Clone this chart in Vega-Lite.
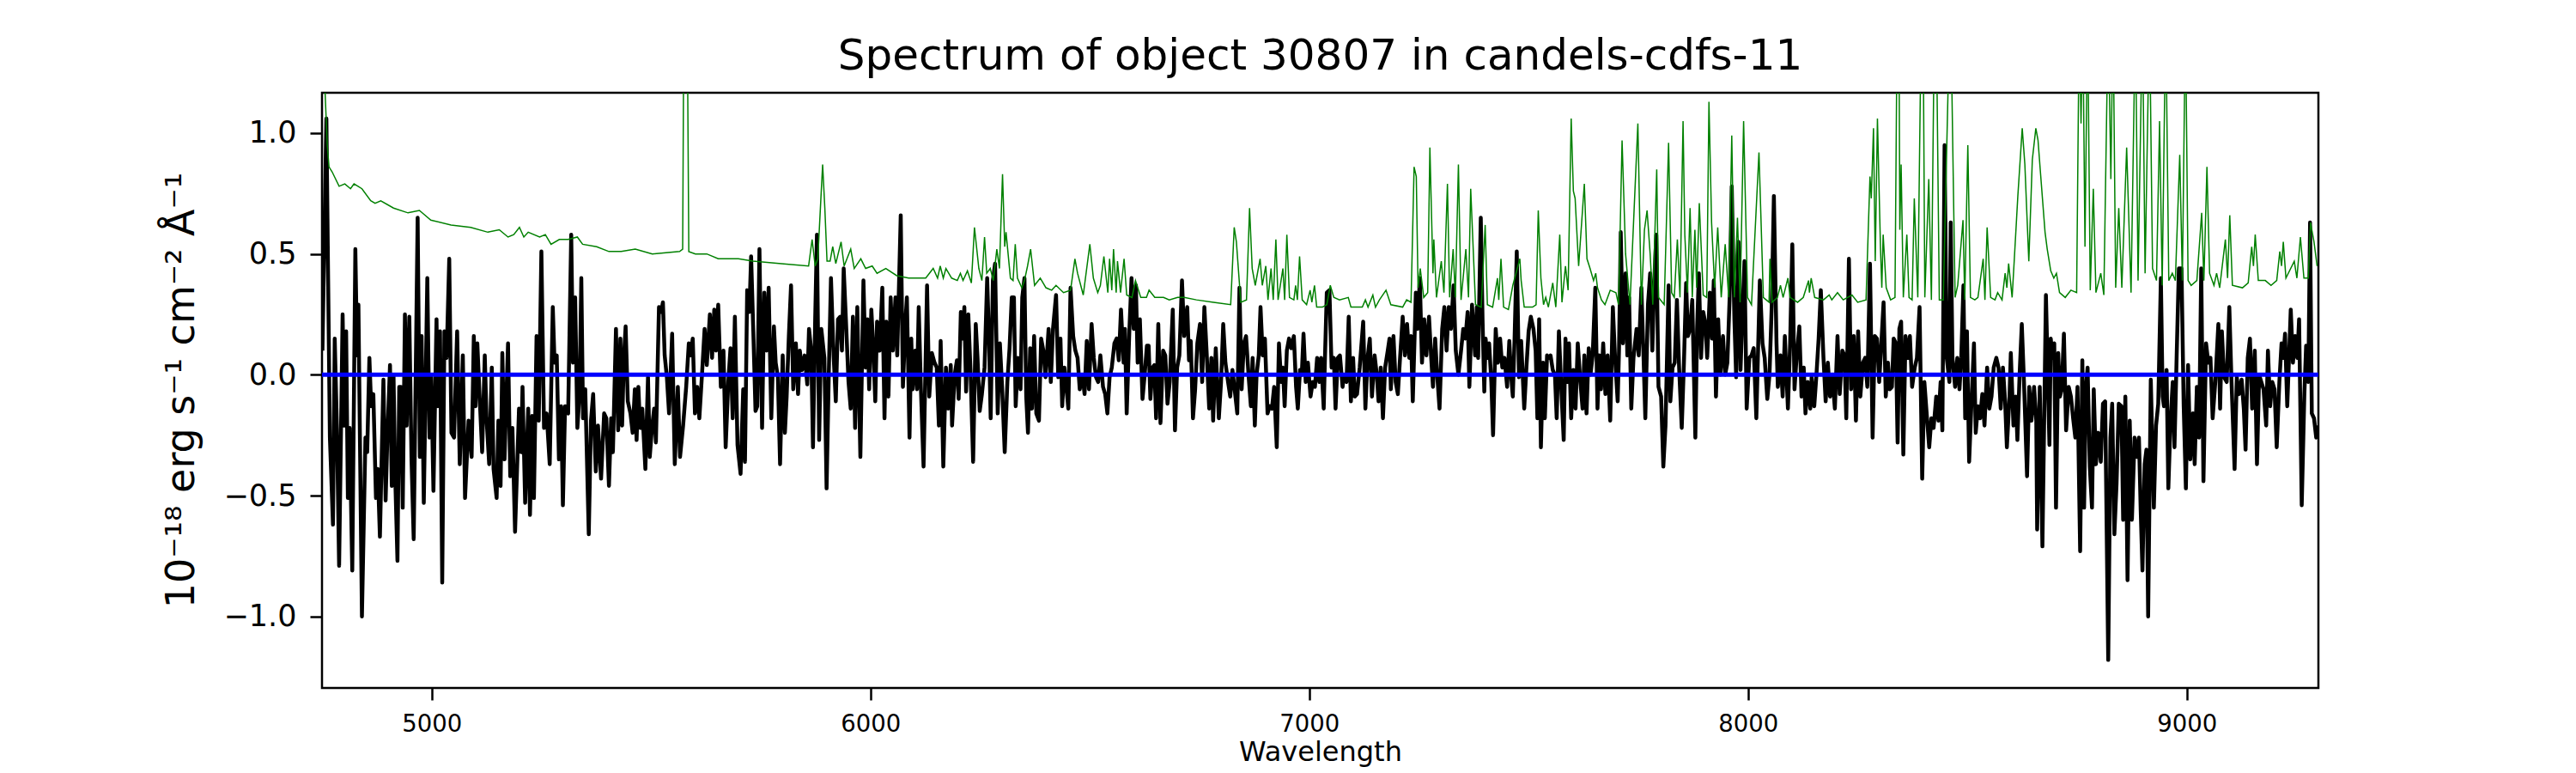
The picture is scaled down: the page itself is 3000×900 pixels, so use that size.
{
"$schema": "https://vega.github.io/schema/vega-lite/v6.json",
"width": 2325,
"height": 693,
"autosize": {"type": "none"},
"padding": {"left": 375, "top": 108, "right": 300, "bottom": 99},
"background": "white",
"config": {
  "font": "DejaVu Sans",
  "view": {"stroke": "black", "strokeWidth": 2.5},
  "axis": {"grid": false, "domain": false, "tickColor": "black", "tickWidth": 2.5, "labelColor": "black", "titleColor": "black", "labelFont": "DejaVu Sans", "titleFont": "DejaVu Sans", "titleFontWeight": "normal"}
},
"title": {"text": "Spectrum of object 30807 in candels-cdfs-11", "fontSize": 50, "fontWeight": "normal", "font": "DejaVu Sans", "color": "black", "anchor": "middle", "frame": "group", "offset": 17},
"datasets": {
"flux": [
{"w":4751,"f":0.10},{"w":4760,"f":1.06},{"w":4764,"f":0.39},{"w":4768,"f":-0.26},{"w":4775,"f":-0.62},{"w":4779,"f":0.15},{"w":4784,"f":-0.22},{"w":4789,"f":-0.79},{"w":4797,"f":0.25},{"w":4801,"f":-0.21},{"w":4805,"f":0.18},{"w":4809,"f":-0.51},{"w":4813,"f":-0.22},{"w":4819,"f":-0.81},{"w":4826,"f":0.52},{"w":4830,"f":0.08},{"w":4833,"f":0.29},{"w":4841,"f":-1.00},{"w":4849,"f":-0.26},{"w":4853,"f":-0.32},{"w":4858,"f":0.07},{"w":4862,"f":-0.13},{"w":4867,"f":-0.08},{"w":4873,"f":-0.51},{"w":4877,"f":-0.39},{"w":4882,"f":-0.67},{"w":4887,"f":-0.26},{"w":4890,"f":-0.02},{"w":4895,"f":-0.52},{"w":4899,"f":-0.26},{"w":4905,"f":0.04},{"w":4909,"f":-0.46},{"w":4913,"f":0.00},{"w":4917,"f":-0.43},{"w":4922,"f":-0.77},{"w":4926,"f":-0.05},{"w":4930,"f":-0.05},{"w":4934,"f":-0.55},{"w":4939,"f":0.25},{"w":4943,"f":-0.21},{"w":4949,"f":0.24},{"w":4954,"f":-0.35},{"w":4959,"f":-0.68},{"w":4968,"f":0.65},{"w":4973,"f":-0.34},{"w":4977,"f":0.16},{"w":4982,"f":-0.53},{"w":4990,"f":0.40},{"w":4995,"f":-0.26},{"w":4999,"f":-0.01},{"w":5004,"f":-0.48},{"w":5011,"f":0.23},{"w":5014,"f":-0.13},{"w":5019,"f":0.18},{"w":5024,"f":-0.86},{"w":5029,"f":0.18},{"w":5034,"f":0.07},{"w":5040,"f":0.48},{"w":5045,"f":-0.24},{"w":5051,"f":-0.26},{"w":5058,"f":0.18},{"w":5064,"f":-0.37},{"w":5071,"f":0.08},{"w":5076,"f":-0.51},{"w":5084,"f":-0.19},{"w":5091,"f":-0.34},{"w":5096,"f":0.16},{"w":5100,"f":-0.13},{"w":5104,"f":0.13},{"w":5109,"f":-0.08},{"w":5115,"f":-0.32},{"w":5121,"f":0.08},{"w":5125,"f":-0.18},{"w":5131,"f":-0.37},{"w":5137,"f":0.03},{"w":5141,"f":-0.39},{"w":5148,"f":-0.51},{"w":5152,"f":-0.19},{"w":5157,"f":-0.46},{"w":5161,"f":0.09},{"w":5166,"f":-0.35},{"w":5174,"f":0.13},{"w":5179,"f":-0.42},{"w":5184,"f":-0.22},{"w":5190,"f":-0.65},{"w":5199,"f":-0.14},{"w":5204,"f":-0.32},{"w":5207,"f":-0.05},{"w":5213,"f":-0.53},{"w":5220,"f":-0.14},{"w":5224,"f":-0.58},{"w":5229,"f":-0.17},{"w":5233,"f":-0.51},{"w":5239,"f":0.16},{"w":5244,"f":-0.19},{"w":5250,"f":0.51},{"w":5256,"f":-0.22},{"w":5262,"f":-0.16},{"w":5269,"f":-0.37},{"w":5276,"f":0.28},{"w":5280,"f":0.05},{"w":5285,"f":0.08},{"w":5290,"f":-0.35},{"w":5295,"f":-0.13},{"w":5299,"f":-0.54},{"w":5304,"f":-0.13},{"w":5311,"f":-0.16},{"w":5318,"f":0.58},{"w":5322,"f":0.05},{"w":5327,"f":0.32},{"w":5332,"f":-0.22},{"w":5337,"f":-0.08},{"w":5341,"f":0.40},{"w":5345,"f":-0.18},{"w":5350,"f":-0.06},{"w":5358,"f":-0.66},{"w":5363,"f":-0.19},{"w":5368,"f":-0.08},{"w":5374,"f":-0.40},{"w":5379,"f":-0.21},{"w":5386,"f":-0.43},{"w":5393,"f":-0.16},{"w":5398,"f":-0.18},{"w":5404,"f":-0.46},
{"w":5409,"f":-0.18},{"w":5413,"f":-0.32},{"w":5420,"f":0.19},{"w":5425,"f":-0.23},{"w":5430,"f":0.15},{"w":5434,"f":-0.21},{"w":5438,"f":0.07},{"w":5442,"f":0.20},{"w":5447,"f":-0.11},{"w":5453,"f":-0.16},{"w":5458,"f":-0.24},{"w":5463,"f":-0.06},{"w":5467,"f":-0.27},{"w":5471,"f":-0.05},{"w":5475,"f":-0.22},{"w":5480,"f":-0.14},{"w":5487,"f":-0.39},{"w":5493,"f":-0.01},{"w":5497,"f":-0.34},{"w":5502,"f":-0.22},{"w":5507,"f":-0.14},{"w":5511,"f":-0.28},{"w":5518,"f":0.28},{"w":5523,"f":0.26},{"w":5527,"f":0.30},{"w":5531,"f":0.08},{"w":5536,"f":-0.01},{"w":5541,"f":-0.16},{"w":5548,"f":0.17},{"w":5554,"f":-0.37},{"w":5561,"f":-0.05},{"w":5566,"f":-0.34},{"w":5573,"f":-0.21},{"w":5580,"f":-0.05},{"w":5586,"f":0.13},{"w":5590,"f":0.08},{"w":5595,"f":0.15},{"w":5600,"f":-0.16},{"w":5605,"f":-0.05},{"w":5610,"f":-0.18},{"w":5616,"f":0.00},{"w":5622,"f":0.19},{"w":5627,"f":0.04},{"w":5634,"f":0.25},{"w":5639,"f":0.07},{"w":5644,"f":0.27},{"w":5648,"f":0.10},{"w":5653,"f":0.29},{"w":5659,"f":-0.05},{"w":5665,"f":0.10},{"w":5670,"f":-0.30},{"w":5676,"f":-0.03},{"w":5681,"f":0.11},{"w":5686,"f":-0.18},{"w":5691,"f":0.24},{"w":5697,"f":-0.29},{"w":5704,"f":-0.41},{"w":5710,"f":-0.06},{"w":5714,"f":-0.36},{"w":5719,"f":0.35},{"w":5724,"f":0.26},{"w":5728,"f":0.49},{"w":5733,"f":0.18},{"w":5738,"f":-0.15},{"w":5742,"f":-0.13},{"w":5747,"f":0.52},{"w":5753,"f":-0.22},{"w":5758,"f":0.34},{"w":5763,"f":0.10},{"w":5768,"f":0.36},{"w":5774,"f":-0.18},{"w":5780,"f":0.20},{"w":5784,"f":0.05},{"w":5789,"f":-0.01},{"w":5794,"f":-0.37},{"w":5800,"f":0.08},{"w":5805,"f":-0.24},{"w":5809,"f":-0.09},{"w":5814,"f":0.16},{"w":5819,"f":0.37},{"w":5824,"f":-0.06},{"w":5830,"f":0.13},{"w":5835,"f":-0.08},{"w":5839,"f":0.10},{"w":5844,"f":0.02},{"w":5850,"f":0.08},{"w":5856,"f":-0.04},{"w":5860,"f":0.19},{"w":5865,"f":0.10},{"w":5869,"f":-0.30},{"w":5874,"f":0.23},{"w":5878,"f":0.58},{"w":5883,"f":-0.27},{"w":5888,"f":0.19},{"w":5895,"f":0.07},{"w":5900,"f":-0.47},{"w":5905,"f":0.00},{"w":5910,"f":0.40},{"w":5916,"f":0.08},{"w":5921,"f":-0.11},{"w":5926,"f":0.23},{"w":5931,"f":0.24},{"w":5935,"f":0.10},{"w":5939,"f":0.44},{"w":5944,"f":0.23},{"w":5950,"f":-0.03},{"w":5955,"f":-0.14},{"w":5960,"f":0.24},{"w":5965,"f":-0.22},{"w":5970,"f":0.28},{"w":5977,"f":-0.34},{"w":5984,"f":0.39},{"w":5989,"f":0.03},{"w":5993,"f":0.23},{"w":5997,"f":-0.06},{"w":6002,"f":0.27},{"w":6006,"f":0.13},{"w":6011,"f":-0.11},{"w":6015,"f":0.22},{"w":6021,"f":0.10},{"w":6027,"f":0.36},{"w":6032,"f":-0.18},{"w":6036,"f":0.22},{"w":6041,"f":-0.09},{"w":6046,"f":0.32},{"w":6051,"f":0.10},{"w":6057,"f":0.32},
{"w":6061,"f":0.08},{"w":6069,"f":0.66},{"w":6074,"f":-0.05},{"w":6080,"f":0.23},{"w":6083,"f":0.32},{"w":6089,"f":-0.26},{"w":6093,"f":0.15},{"w":6096,"f":-0.06},{"w":6102,"f":0.10},{"w":6106,"f":-0.06},{"w":6110,"f":0.28},{"w":6115,"f":-0.06},{"w":6121,"f":-0.38},{"w":6129,"f":0.37},{"w":6134,"f":-0.09},{"w":6140,"f":0.09},{"w":6146,"f":0.05},{"w":6151,"f":0.03},{"w":6156,"f":-0.21},{"w":6160,"f":0.14},{"w":6166,"f":-0.38},{"w":6172,"f":0.03},{"w":6177,"f":-0.14},{"w":6183,"f":0.04},{"w":6186,"f":-0.21},{"w":6192,"f":0.00},{"w":6197,"f":0.06},{"w":6201,"f":-0.10},{"w":6206,"f":0.26},{"w":6210,"f":0.15},{"w":6214,"f":0.28},{"w":6218,"f":-0.07},{"w":6223,"f":0.25},{"w":6228,"f":0.02},{"w":6234,"f":-0.36},{"w":6240,"f":0.21},{"w":6244,"f":0.07},{"w":6249,"f":-0.15},{"w":6254,"f":-0.08},{"w":6260,"f":0.03},{"w":6266,"f":0.40},{"w":6270,"f":0.16},{"w":6274,"f":-0.18},{"w":6279,"f":0.39},{"w":6284,"f":0.46},{"w":6290,"f":-0.16},{"w":6295,"f":0.13},{"w":6300,"f":-0.05},{"w":6306,"f":-0.32},{"w":6312,"f":-0.03},{"w":6317,"f":0.11},{"w":6322,"f":0.32},{"w":6327,"f":0.32},{"w":6331,"f":-0.13},{"w":6336,"f":0.07},{"w":6342,"f":-0.06},{"w":6346,"f":0.32},{"w":6351,"f":0.40},{"w":6355,"f":-0.09},{"w":6359,"f":-0.24},{"w":6364,"f":0.11},{"w":6368,"f":-0.14},{"w":6373,"f":0.16},{"w":6378,"f":-0.16},{"w":6384,"f":-0.19},{"w":6389,"f":0.15},{"w":6394,"f":0.10},{"w":6399,"f":-0.01},{"w":6406,"f":0.19},{"w":6411,"f":-0.03},{"w":6416,"f":0.19},{"w":6423,"f":0.33},{"w":6428,"f":-0.01},{"w":6433,"f":0.15},{"w":6437,"f":-0.13},{"w":6442,"f":0.03},{"w":6447,"f":-0.06},{"w":6451,"f":-0.14},{"w":6456,"f":0.36},{"w":6462,"f":0.16},{"w":6467,"f":0.10},{"w":6472,"f":0.07},{"w":6477,"f":-0.06},{"w":6483,"f":0.00},{"w":6488,"f":-0.08},{"w":6493,"f":0.14},{"w":6498,"f":-0.06},{"w":6504,"f":0.21},{"w":6509,"f":0.07},{"w":6514,"f":-0.01},{"w":6519,"f":-0.03},{"w":6524,"f":0.08},{"w":6530,"f":-0.05},{"w":6535,"f":-0.08},{"w":6540,"f":-0.16},{"w":6545,"f":-0.01},{"w":6550,"f":0.03},{"w":6556,"f":0.13},{"w":6561,"f":0.15},{"w":6566,"f":0.06},{"w":6571,"f":0.27},{"w":6577,"f":0.05},{"w":6580,"f":0.19},{"w":6584,"f":-0.16},{"w":6590,"f":0.18},{"w":6595,"f":0.40},{"w":6600,"f":0.19},{"w":6605,"f":0.37},{"w":6609,"f":0.05},{"w":6614,"f":0.23},{"w":6620,"f":-0.10},{"w":6625,"f":0.00},{"w":6630,"f":0.12},{"w":6634,"f":0.12},{"w":6638,"f":-0.10},{"w":6643,"f":0.03},{"w":6647,"f":0.04},{"w":6651,"f":-0.18},{"w":6656,"f":0.21},{"w":6661,"f":-0.20},{"w":6667,"f":0.10},{"w":6672,"f":0.08},{"w":6677,"f":-0.12},{"w":6682,"f":-0.03},{"w":6689,"f":0.27},{"w":6694,"f":-0.23},{"w":6699,"f":0.03},{"w":6704,"f":0.08},{"w":6710,"f":0.39},{"w":6715,"f":0.16},
{"w":6722,"f":0.28},{"w":6726,"f":0.06},{"w":6730,"f":0.14},{"w":6735,"f":-0.18},{"w":6740,"f":-0.06},{"w":6745,"f":0.13},{"w":6751,"f":0.21},{"w":6756,"f":-0.03},{"w":6761,"f":0.28},{"w":6766,"f":0.10},{"w":6772,"f":-0.14},{"w":6777,"f":0.07},{"w":6781,"f":-0.19},{"w":6787,"f":0.11},{"w":6794,"f":-0.18},{"w":6799,"f":-0.03},{"w":6804,"f":0.21},{"w":6809,"f":0.05},{"w":6815,"f":-0.03},{"w":6820,"f":-0.09},{"w":6825,"f":0.02},{"w":6830,"f":-0.06},{"w":6836,"f":-0.16},{"w":6841,"f":0.36},{"w":6846,"f":-0.06},{"w":6851,"f":0.13},{"w":6856,"f":0.16},{"w":6862,"f":-0.01},{"w":6867,"f":-0.13},{"w":6871,"f":0.07},{"w":6876,"f":-0.21},{"w":6880,"f":0.00},{"w":6885,"f":0.08},{"w":6889,"f":0.28},{"w":6894,"f":0.08},{"w":6899,"f":0.15},{"w":6905,"f":-0.16},{"w":6910,"f":-0.13},{"w":6915,"f":-0.14},{"w":6920,"f":-0.05},{"w":6926,"f":-0.30},{"w":6931,"f":0.13},{"w":6936,"f":-0.03},{"w":6940,"f":0.03},{"w":6944,"f":-0.13},{"w":6949,"f":0.10},{"w":6954,"f":0.15},{"w":6959,"f":0.11},{"w":6965,"f":0.16},{"w":6970,"f":-0.05},{"w":6974,"f":-0.14},{"w":6979,"f":0.02},{"w":6983,"f":0.00},{"w":6987,"f":0.17},{"w":6992,"f":-0.03},{"w":6997,"f":0.05},{"w":7003,"f":-0.09},{"w":7008,"f":-0.03},{"w":7013,"f":-0.05},{"w":7018,"f":0.07},{"w":7023,"f":-0.03},{"w":7027,"f":0.07},{"w":7033,"f":-0.14},{"w":7036,"f":0.08},{"w":7040,"f":0.34},{"w":7046,"f":0.35},{"w":7051,"f":0.03},{"w":7056,"f":0.07},{"w":7060,"f":-0.14},{"w":7065,"f":0.07},{"w":7070,"f":0.08},{"w":7076,"f":-0.05},{"w":7079,"f":0.00},{"w":7085,"f":-0.03},{"w":7090,"f":0.24},{"w":7095,"f":-0.11},{"w":7100,"f":0.07},{"w":7104,"f":-0.09},{"w":7109,"f":-0.08},{"w":7115,"f":0.03},{"w":7123,"f":0.22},{"w":7128,"f":-0.14},{"w":7133,"f":0.07},{"w":7138,"f":0.15},{"w":7143,"f":-0.09},{"w":7149,"f":0.08},{"w":7154,"f":0.00},{"w":7158,"f":-0.11},{"w":7163,"f":0.03},{"w":7168,"f":-0.18},{"w":7173,"f":0.03},{"w":7179,"f":0.10},{"w":7183,"f":0.15},{"w":7186,"f":-0.06},{"w":7192,"f":0.16},{"w":7197,"f":-0.03},{"w":7202,"f":-0.08},{"w":7207,"f":0.07},{"w":7213,"f":0.24},{"w":7218,"f":0.08},{"w":7223,"f":0.21},{"w":7228,"f":0.07},{"w":7232,"f":0.16},{"w":7236,"f":-0.11},{"w":7243,"f":0.34},{"w":7247,"f":0.19},{"w":7252,"f":0.40},{"w":7257,"f":0.05},{"w":7262,"f":0.23},{"w":7267,"f":0.08},{"w":7273,"f":0.24},{"w":7278,"f":0.07},{"w":7282,"f":-0.05},{"w":7287,"f":0.15},{"w":7292,"f":-0.01},{"w":7297,"f":-0.14},{"w":7303,"f":0.19},{"w":7308,"f":0.28},{"w":7313,"f":0.10},{"w":7318,"f":0.28},{"w":7323,"f":0.19},{"w":7329,"f":0.37},{"w":7334,"f":0.10},{"w":7340,"f":0.00},{"w":7346,"f":0.10},{"w":7351,"f":0.19},{"w":7356,"f":0.15},{"w":7361,"f":0.26},{"w":7365,"f":-0.05},{"w":7371,"f":0.29},
{"w":7378,"f":0.08},{"w":7382,"f":0.28},{"w":7385,"f":0.07},{"w":7391,"f":0.65},{"w":7395,"f":0.23},{"w":7399,"f":-0.07},{"w":7402,"f":0.15},{"w":7406,"f":0.07},{"w":7410,"f":0.13},{"w":7415,"f":-0.03},{"w":7419,"f":-0.25},{"w":7425,"f":0.19},{"w":7430,"f":0.05},{"w":7435,"f":0.15},{"w":7440,"f":0.03},{"w":7445,"f":0.07},{"w":7451,"f":-0.05},{"w":7456,"f":0.14},{"w":7460,"f":0.00},{"w":7464,"f":-0.09},{"w":7468,"f":0.15},{"w":7473,"f":0.51},{"w":7478,"f":-0.01},{"w":7483,"f":0.14},{"w":7490,"f":-0.14},{"w":7495,"f":0.03},{"w":7500,"f":0.18},{"w":7505,"f":0.24},{"w":7511,"f":0.19},{"w":7516,"f":0.10},{"w":7520,"f":-0.18},{"w":7524,"f":0.23},{"w":7528,"f":-0.30},{"w":7533,"f":0.05},{"w":7537,"f":-0.18},{"w":7542,"f":0.08},{"w":7546,"f":0.07},{"w":7550,"f":0.08},{"w":7555,"f":0.02},{"w":7560,"f":0.00},{"w":7564,"f":-0.18},{"w":7569,"f":0.18},{"w":7575,"f":-0.08},{"w":7580,"f":-0.27},{"w":7584,"f":0.15},{"w":7588,"f":-0.03},{"w":7592,"f":0.13},{"w":7597,"f":-0.18},{"w":7602,"f":0.02},{"w":7607,"f":-0.14},{"w":7612,"f":0.13},{"w":7618,"f":-0.03},{"w":7623,"f":-0.14},{"w":7627,"f":0.08},{"w":7632,"f":-0.16},{"w":7637,"f":0.11},{"w":7641,"f":0.00},{"w":7646,"f":0.08},{"w":7652,"f":0.36},{"w":7657,"f":-0.14},{"w":7661,"f":0.08},{"w":7665,"f":-0.06},{"w":7670,"f":0.13},{"w":7675,"f":-0.08},{"w":7680,"f":0.08},{"w":7686,"f":-0.19},{"w":7692,"f":0.28},{"w":7697,"f":0.07},{"w":7703,"f":-0.11},{"w":7706,"f":0.10},{"w":7710,"f":0.59},{"w":7715,"f":0.13},{"w":7721,"f":0.42},{"w":7725,"f":0.08},{"w":7729,"f":0.32},{"w":7734,"f":-0.14},{"w":7739,"f":0.07},{"w":7746,"f":0.19},{"w":7751,"f":0.08},{"w":7757,"f":0.36},{"w":7762,"f":0.07},{"w":7766,"f":-0.18},{"w":7772,"f":0.29},{"w":7777,"f":0.42},{"w":7782,"f":0.10},{"w":7786,"f":0.37},{"w":7791,"f":0.58},{"w":7796,"f":-0.05},{"w":7802,"f":-0.09},{"w":7807,"f":-0.38},{"w":7812,"f":-0.21},{"w":7819,"f":0.37},{"w":7823,"f":-0.11},{"w":7828,"f":0.03},{"w":7833,"f":0.05},{"w":7838,"f":0.31},{"w":7843,"f":0.03},{"w":7849,"f":-0.22},{"w":7854,"f":0.05},{"w":7859,"f":0.38},{"w":7863,"f":0.16},{"w":7868,"f":0.19},{"w":7873,"f":0.31},{"w":7880,"f":-0.26},{"w":7884,"f":0.19},{"w":7888,"f":0.42},{"w":7893,"f":0.07},{"w":7898,"f":0.26},{"w":7903,"f":0.21},{"w":7907,"f":0.07},{"w":7913,"f":0.34},{"w":7918,"f":0.15},{"w":7922,"f":0.39},{"w":7927,"f":-0.09},{"w":7932,"f":0.23},{"w":7937,"f":0.00},{"w":7943,"f":0.16},{"w":7948,"f":0.00},{"w":7953,"f":0.05},{"w":7958,"f":0.31},{"w":7963,"f":0.78},{"w":7969,"f":0.23},{"w":7973,"f":-0.01},{"w":7978,"f":0.55},{"w":7983,"f":0.02},{"w":7988,"f":0.29},{"w":7992,"f":0.47},{"w":7997,"f":-0.14},{"w":8003,"f":0.07},{"w":8008,"f":0.08},{"w":8013,"f":0.11},{"w":8019,"f":-0.18},{"w":8027,"f":0.39},
{"w":8033,"f":0.13},{"w":8038,"f":0.07},{"w":8044,"f":-0.10},{"w":8049,"f":0.00},{"w":8054,"f":0.28},{"w":8059,"f":0.74},{"w":8065,"f":0.13},{"w":8068,"f":-0.05},{"w":8074,"f":0.08},{"w":8079,"f":-0.09},{"w":8084,"f":0.16},{"w":8091,"f":-0.14},{"w":8096,"f":0.13},{"w":8101,"f":0.54},{"w":8106,"f":-0.06},{"w":8111,"f":0.08},{"w":8117,"f":0.20},{"w":8122,"f":-0.09},{"w":8127,"f":0.03},{"w":8131,"f":-0.16},{"w":8136,"f":-0.03},{"w":8142,"f":-0.14},{"w":8145,"f":-0.01},{"w":8151,"f":-0.13},{"w":8156,"f":0.00},{"w":8161,"f":0.15},{"w":8166,"f":0.35},{"w":8172,"f":0.07},{"w":8177,"f":-0.11},{"w":8182,"f":0.05},{"w":8187,"f":-0.09},{"w":8192,"f":0.00},{"w":8198,"f":-0.14},{"w":8204,"f":0.16},{"w":8209,"f":-0.08},{"w":8215,"f":0.10},{"w":8220,"f":0.08},{"w":8224,"f":-0.18},{"w":8230,"f":0.48},{"w":8235,"f":-0.06},{"w":8241,"f":0.16},{"w":8246,"f":-0.19},{"w":8251,"f":0.18},{"w":8256,"f":-0.09},{"w":8262,"f":0.05},{"w":8267,"f":0.07},{"w":8272,"f":-0.05},{"w":8278,"f":0.46},{"w":8284,"f":-0.26},{"w":8289,"f":0.16},{"w":8294,"f":0.15},{"w":8299,"f":-0.03},{"w":8303,"f":0.10},{"w":8309,"f":0.30},{"w":8314,"f":-0.09},{"w":8319,"f":0.05},{"w":8323,"f":-0.06},{"w":8328,"f":-0.05},{"w":8332,"f":0.15},{"w":8337,"f":0.13},{"w":8341,"f":-0.28},{"w":8345,"f":0.19},{"w":8349,"f":0.22},{"w":8354,"f":-0.33},{"w":8359,"f":0.16},{"w":8365,"f":0.07},{"w":8369,"f":0.16},{"w":8374,"f":-0.05},{"w":8380,"f":0.03},{"w":8385,"f":0.07},{"w":8391,"f":0.28},{"w":8397,"f":-0.43},{"w":8402,"f":-0.03},{"w":8408,"f":-0.18},{"w":8413,"f":-0.30},{"w":8418,"f":-0.18},{"w":8423,"f":-0.22},{"w":8429,"f":-0.09},{"w":8434,"f":-0.19},{"w":8439,"f":-0.03},{"w":8443,"f":-0.23},{"w":8448,"f":0.95},{"w":8453,"f":0.07},{"w":8459,"f":-0.03},{"w":8462,"f":0.63},{"w":8466,"f":0.07},{"w":8472,"f":-0.05},{"w":8477,"f":0.07},{"w":8482,"f":-0.06},{"w":8486,"f":0.07},{"w":8491,"f":0.37},{"w":8495,"f":-0.18},{"w":8499,"f":0.18},{"w":8504,"f":-0.36},{"w":8509,"f":-0.13},{"w":8515,"f":0.13},{"w":8519,"f":-0.24},{"w":8524,"f":-0.13},{"w":8529,"f":-0.18},{"w":8534,"f":-0.08},{"w":8539,"f":-0.21},{"w":8545,"f":0.03},{"w":8550,"f":-0.14},{"w":8555,"f":-0.09},{"w":8560,"f":0.03},{"w":8566,"f":0.07},{"w":8571,"f":0.03},{"w":8576,"f":-0.14},{"w":8581,"f":0.03},{"w":8586,"f":-0.11},{"w":8590,"f":-0.30},{"w":8596,"f":-0.09},{"w":8599,"f":0.09},{"w":8605,"f":-0.21},{"w":8610,"f":-0.09},{"w":8614,"f":-0.27},{"w":8619,"f":0.00},{"w":8624,"f":0.21},{"w":8629,"f":-0.03},{"w":8636,"f":-0.42},{"w":8641,"f":-0.05},{"w":8646,"f":-0.19},{"w":8652,"f":-0.05},{"w":8657,"f":-0.19},{"w":8659,"f":-0.64},{"w":8665,"f":-0.05},{"w":8671,"f":-0.71},{"w":8679,"f":0.33},
{"w":8687,"f":-0.29},{"w":8690,"f":0.15},{"w":8694,"f":0.07},{"w":8698,"f":0.13},{"w":8702,"f":-0.55},{"w":8707,"f":0.09},{"w":8711,"f":-0.09},{"w":8715,"f":-0.06},{"w":8720,"f":0.17},{"w":8725,"f":-0.23},{"w":8731,"f":-0.05},{"w":8736,"f":-0.09},{"w":8741,"f":-0.18},{"w":8746,"f":-0.26},{"w":8751,"f":-0.05},{"w":8757,"f":-0.73},{"w":8762,"f":0.06},{"w":8766,"f":-0.55},{"w":8770,"f":-0.06},{"w":8774,"f":0.03},{"w":8779,"f":-0.38},{"w":8784,"f":-0.55},{"w":8788,"f":-0.06},{"w":8793,"f":-0.37},{"w":8798,"f":-0.24},{"w":8804,"f":-0.36},{"w":8809,"f":-0.12},{"w":8814,"f":-0.11},{"w":8821,"f":-1.18},{"w":8826,"f":-0.26},{"w":8830,"f":-0.12},{"w":8835,"f":-0.66},{"w":8840,"f":-0.45},{"w":8845,"f":-0.12},{"w":8851,"f":-0.13},{"w":8855,"f":-0.60},{"w":8860,"f":-0.09},{"w":8865,"f":-0.85},{"w":8870,"f":-0.19},{"w":8875,"f":-0.60},{"w":8881,"f":-0.26},{"w":8886,"f":-0.34},{"w":8891,"f":-0.26},{"w":8895,"f":-0.56},{"w":8899,"f":-0.81},{"w":8904,"f":-0.37},{"w":8908,"f":-0.31},{"w":8912,"f":-1.00},{"w":8918,"f":-0.02},{"w":8925,"f":-0.55},{"w":8930,"f":-0.21},{"w":8935,"f":-0.12},{"w":8941,"f":0.40},{"w":8945,"f":-0.09},{"w":8948,"f":-0.13},{"w":8954,"f":0.02},{"w":8958,"f":-0.47},{"w":8963,"f":-0.19},{"w":8968,"f":-0.03},{"w":8972,"f":-0.30},{"w":8977,"f":0.08},{"w":8982,"f":0.44},{"w":8988,"f":0.44},{"w":8993,"f":-0.13},{"w":8998,"f":-0.47},{"w":9003,"f":0.04},{"w":9008,"f":-0.35},{"w":9014,"f":-0.16},{"w":9018,"f":-0.37},{"w":9023,"f":-0.05},{"w":9028,"f":-0.26},{"w":9033,"f":0.44},{"w":9038,"f":-0.44},{"w":9044,"f":0.13},{"w":9049,"f":0.05},{"w":9054,"f":0.07},{"w":9059,"f":-0.18},{"w":9065,"f":-0.03},{"w":9068,"f":0.07},{"w":9072,"f":0.21},{"w":9076,"f":-0.14},{"w":9080,"f":0.18},{"w":9085,"f":-0.01},{"w":9091,"f":-0.03},{"w":9097,"f":0.28},{"w":9102,"f":-0.03},{"w":9109,"f":-0.39},{"w":9114,"f":-0.01},{"w":9119,"f":-0.08},{"w":9125,"f":-0.02},{"w":9130,"f":-0.14},{"w":9134,"f":-0.31},{"w":9139,"f":0.07},{"w":9144,"f":0.15},{"w":9149,"f":-0.14},{"w":9155,"f":0.10},{"w":9160,"f":-0.37},{"w":9165,"f":0.00},{"w":9170,"f":-0.03},{"w":9175,"f":-0.06},{"w":9181,"f":-0.21},{"w":9185,"f":0.10},{"w":9190,"f":-0.13},{"w":9195,"f":-0.03},{"w":9200,"f":-0.06},{"w":9205,"f":-0.30},{"w":9211,"f":-0.03},{"w":9216,"f":0.13},{"w":9220,"f":0.07},{"w":9224,"f":0.17},{"w":9229,"f":-0.13},{"w":9233,"f":0.07},{"w":9237,"f":0.27},{"w":9242,"f":0.05},{"w":9247,"f":0.16},{"w":9252,"f":0.07},{"w":9256,"f":0.23},{"w":9262,"f":-0.54},{"w":9268,"f":-0.08},{"w":9272,"f":0.12},{"w":9277,"f":-0.03},{"w":9281,"f":0.63},{"w":9285,"f":-0.16},{"w":9290,"f":-0.18},{"w":9295,"f":-0.26},{"w":9299,"f":-0.21}
],
"err": [
{"w":4750,"f":1.6},{"w":4757,"f":1.17},{"w":4762,"f":0.95},{"w":4766,"f":0.86},{"w":4773,"f":0.84},{"w":4789,"f":0.78},{"w":4802,"f":0.79},{"w":4815,"f":0.77},{"w":4823,"f":0.79},{"w":4841,"f":0.77},{"w":4861,"f":0.72},{"w":4871,"f":0.71},{"w":4884,"f":0.72},{"w":4913,"f":0.69},{"w":4946,"f":0.67},{"w":4972,"f":0.68},{"w":4998,"f":0.64},{"w":5044,"f":0.62},{"w":5089,"f":0.61},{"w":5128,"f":0.59},{"w":5154,"f":0.60},{"w":5174,"f":0.57},{"w":5187,"f":0.58},{"w":5200,"f":0.61},{"w":5210,"f":0.57},{"w":5220,"f":0.59},{"w":5246,"f":0.57},{"w":5259,"f":0.58},{"w":5272,"f":0.54},{"w":5291,"f":0.56},{"w":5311,"f":0.56},{"w":5332,"f":0.57},{"w":5344,"f":0.54},{"w":5376,"f":0.53},{"w":5404,"f":0.51},
{"w":5432,"f":0.51},{"w":5464,"f":0.52},{"w":5503,"f":0.50},{"w":5565,"f":0.51},{"w":5572,"f":0.52},{"w":5575,"f":1.6},{"w":5582,"f":1.6},{"w":5586,"f":0.51},{"w":5601,"f":0.50},{"w":5627,"f":0.50},{"w":5653,"f":0.48},{"w":5699,"f":0.48},{"w":5732,"f":0.47},{"w":5797,"f":0.46},{"w":5859,"f":0.45},{"w":5867,"f":0.56},{"w":5874,"f":0.45},{"w":5880,"f":0.48},{"w":5891,"f":0.87},{"w":5896,"f":0.69},{"w":5901,"f":0.47},{"w":5908,"f":0.47},{"w":5914,"f":0.53},{"w":5921,"f":0.46},{"w":5933,"f":0.55},{"w":5940,"f":0.45},{"w":5955,"f":0.52},{"w":5963,"f":0.44},{"w":5978,"f":0.48},{"w":5989,"f":0.44},{"w":6004,"f":0.45},{"w":6015,"f":0.42},{"w":6035,"f":0.44},{"w":6060,"f":0.41},
{"w":6087,"f":0.40},{"w":6126,"f":0.40},{"w":6143,"f":0.44},{"w":6153,"f":0.40},{"w":6159,"f":0.45},{"w":6166,"f":0.40},{"w":6172,"f":0.44},{"w":6185,"f":0.40},{"w":6198,"f":0.39},{"w":6205,"f":0.42},{"w":6211,"f":0.39},{"w":6221,"f":0.43},{"w":6230,"f":0.38},{"w":6237,"f":0.61},{"w":6247,"f":0.44},{"w":6254,"f":0.39},{"w":6260,"f":0.57},{"w":6265,"f":0.42},{"w":6273,"f":0.44},{"w":6280,"f":0.39},{"w":6288,"f":0.52},{"w":6294,"f":0.44},{"w":6301,"f":0.83},{"w":6306,"f":0.53},{"w":6309,"f":0.59},{"w":6319,"f":0.40},{"w":6325,"f":0.39},{"w":6330,"f":0.54},{"w":6335,"f":0.40},{"w":6345,"f":0.36},{"w":6351,"f":0.39},{"w":6358,"f":0.45},{"w":6365,"f":0.52},{"w":6374,"f":0.37},{"w":6387,"f":0.40},{"w":6400,"f":0.36},{"w":6413,"f":0.35},{"w":6423,"f":0.37},{"w":6440,"f":0.34},{"w":6456,"f":0.35},{"w":6466,"f":0.48},{"w":6472,"f":0.42},{"w":6485,"f":0.33},{"w":6500,"f":0.54},{"w":6508,"f":0.40},{"w":6518,"f":0.34},{"w":6524,"f":0.37},{"w":6532,"f":0.49},{"w":6541,"f":0.34},{"w":6545,"f":0.48},{"w":6550,"f":0.35},{"w":6554,"f":0.52},{"w":6560,"f":0.34},{"w":6563,"f":0.47},{"w":6570,"f":0.34},{"w":6578,"f":0.48},{"w":6584,"f":0.33},{"w":6596,"f":0.32},{"w":6604,"f":0.39},{"w":6616,"f":0.32},{"w":6629,"f":0.32},{"w":6635,"f":0.35},{"w":6648,"f":0.32},{"w":6668,"f":0.32},{"w":6681,"f":0.31},{"w":6700,"f":0.32},{"w":6715,"f":0.32},
{"w":6743,"f":0.31},{"w":6782,"f":0.30},{"w":6821,"f":0.29},{"w":6829,"f":0.61},{"w":6834,"f":0.55},{"w":6844,"f":0.30},{"w":6857,"f":0.31},{"w":6864,"f":0.69},{"w":6870,"f":0.44},{"w":6877,"f":0.37},{"w":6888,"f":0.48},{"w":6893,"f":0.37},{"w":6901,"f":0.45},{"w":6906,"f":0.31},{"w":6913,"f":0.44},{"w":6918,"f":0.31},{"w":6924,"f":0.56},{"w":6929,"f":0.31},{"w":6940,"f":0.44},{"w":6944,"f":0.31},{"w":6949,"f":0.58},{"w":6955,"f":0.32},{"w":6965,"f":0.31},{"w":6969,"f":0.37},{"w":6973,"f":0.31},{"w":6978,"f":0.49},{"w":6984,"f":0.31},{"w":6994,"f":0.29},{"w":7002,"f":0.35},{"w":7006,"f":0.30},{"w":7012,"f":0.37},{"w":7017,"f":0.28},{"w":7030,"f":0.28},{"w":7040,"f":0.29},{"w":7048,"f":0.37},{"w":7056,"f":0.32},{"w":7069,"f":0.31},{"w":7089,"f":0.32},{"w":7095,"f":0.28},{"w":7121,"f":0.28},{"w":7128,"f":0.31},{"w":7134,"f":0.28},{"w":7145,"f":0.33},{"w":7151,"f":0.28},{"w":7160,"f":0.31},{"w":7175,"f":0.35},{"w":7186,"f":0.29},{"w":7213,"f":0.28},{"w":7222,"f":0.31},{"w":7232,"f":0.30},{"w":7239,"f":0.86},{"w":7244,"f":0.82},{"w":7248,"f":0.36},{"w":7253,"f":0.44},{"w":7261,"f":0.32},{"w":7270,"f":0.34},{"w":7275,"f":0.94},{"w":7282,"f":0.42},{"w":7284,"f":0.56},{"w":7290,"f":0.32},{"w":7301,"f":0.47},{"w":7307,"f":0.34},{"w":7315,"f":0.79},{"w":7320,"f":0.32},{"w":7328,"f":0.52},{"w":7333,"f":0.32},{"w":7340,"f":0.87},{"w":7346,"f":0.31},{"w":7357,"f":0.52},{"w":7363,"f":0.32},{"w":7368,"f":0.77},
{"w":7379,"f":0.29},{"w":7392,"f":0.28},{"w":7401,"f":0.62},{"w":7406,"f":0.29},{"w":7418,"f":0.28},{"w":7429,"f":0.40},{"w":7432,"f":0.31},{"w":7437,"f":0.48},{"w":7443,"f":0.28},{"w":7454,"f":0.27},{"w":7464,"f":0.37},{"w":7480,"f":0.48},{"w":7483,"f":0.39},{"w":7490,"f":0.28},{"w":7509,"f":0.28},{"w":7517,"f":0.29},{"w":7522,"f":0.68},{"w":7528,"f":0.40},{"w":7534,"f":0.29},{"w":7539,"f":0.32},{"w":7545,"f":0.28},{"w":7555,"f":0.38},{"w":7562,"f":0.28},{"w":7571,"f":0.58},{"w":7576,"f":0.30},{"w":7584,"f":0.45},{"w":7590,"f":0.35},{"w":7597,"f":1.06},{"w":7602,"f":0.76},{"w":7606,"f":0.73},{"w":7614,"f":0.45},{"w":7627,"f":0.79},{"w":7633,"f":0.48},{"w":7640,"f":0.44},{"w":7648,"f":0.39},{"w":7653,"f":0.42},{"w":7657,"f":0.36},{"w":7666,"f":0.31},{"w":7674,"f":0.29},{"w":7686,"f":0.35},{"w":7699,"f":0.34},{"w":7705,"f":0.29},{"w":7713,"f":0.97},{"w":7721,"f":0.50},{"w":7731,"f":0.29},{"w":7749,"f":1.04},{"w":7757,"f":0.29},{"w":7764,"f":0.60},{"w":7770,"f":0.68},{"w":7777,"f":0.50},{"w":7783,"f":0.29},{"w":7792,"f":0.85},{"w":7796,"f":0.32},{"w":7809,"f":0.29},{"w":7819,"f":0.96},{"w":7826,"f":0.34},{"w":7832,"f":0.32},{"w":7839,"f":0.56},{"w":7845,"f":0.32},{"w":7852,"f":1.05},{"w":7856,"f":0.58},{"w":7862,"f":0.34},{"w":7868,"f":0.69},{"w":7873,"f":0.32},{"w":7879,"f":0.60},{"w":7883,"f":0.36},{"w":7889,"f":0.71},{"w":7898,"f":0.33},{"w":7906,"f":0.32},{"w":7911,"f":1.13},{"w":7917,"f":0.63},{"w":7924,"f":0.36},{"w":7931,"f":0.61},{"w":7939,"f":0.32},{"w":7948,"f":0.54},{"w":7956,"f":0.32},{"w":7963,"f":0.99},{"w":7969,"f":0.32},{"w":7976,"f":0.65},{"w":7982,"f":0.30},{"w":7990,"f":1.05},{"w":7999,"f":0.32},{"w":8008,"f":0.29},{"w":8025,"f":0.92},
{"w":8035,"f":0.32},{"w":8048,"f":0.30},{"w":8050,"f":0.48},{"w":8055,"f":0.30},{"w":8067,"f":0.32},{"w":8074,"f":0.37},{"w":8080,"f":0.32},{"w":8091,"f":0.40},{"w":8096,"f":0.32},{"w":8113,"f":0.30},{"w":8126,"f":0.32},{"w":8138,"f":0.39},{"w":8140,"f":0.34},{"w":8144,"f":0.40},{"w":8152,"f":0.32},{"w":8172,"f":0.31},{"w":8185,"f":0.33},{"w":8191,"f":0.31},{"w":8204,"f":0.34},{"w":8217,"f":0.31},{"w":8237,"f":0.33},{"w":8250,"f":0.30},{"w":8269,"f":0.31},{"w":8278,"f":0.82},{"w":8281,"f":0.73},{"w":8286,"f":1.02},{"w":8290,"f":0.47},{"w":8295,"f":1.06},{"w":8302,"f":0.52},{"w":8305,"f":0.36},{"w":8308,"f":0.58},{"w":8315,"f":0.36},{"w":8325,"f":0.31},{"w":8335,"f":0.32},{"w":8340,"f":1.5},{"w":8344,"f":1.5},{"w":8346,"f":0.60},{"w":8349,"f":0.87},{"w":8354,"f":0.32},{"w":8362,"f":0.58},{"w":8367,"f":0.32},{"w":8374,"f":0.31},{"w":8379,"f":0.73},{"w":8387,"f":0.32},{"w":8395,"f":1.5},{"w":8399,"f":1.5},{"w":8403,"f":0.32},{"w":8412,"f":0.81},{"w":8418,"f":0.31},{"w":8425,"f":1.5},{"w":8429,"f":1.5},{"w":8436,"f":0.31},{"w":8445,"f":0.31},{"w":8460,"f":1.5},{"w":8462,"f":1.5},{"w":8472,"f":0.32},{"w":8478,"f":0.37},{"w":8490,"f":0.64},{"w":8494,"f":0.31},{"w":8501,"f":0.95},{"w":8507,"f":0.32},{"w":8517,"f":0.31},{"w":8524,"f":0.32},{"w":8536,"f":0.48},{"w":8540,"f":0.31},{"w":8545,"f":0.61},{"w":8553,"f":0.32},{"w":8563,"f":0.31},{"w":8569,"f":0.34},{"w":8579,"f":0.31},{"w":8586,"f":0.42},{"w":8590,"f":0.36},{"w":8594,"f":0.46},{"w":8602,"f":0.32},{"w":8607,"f":0.48},{"w":8615,"f":0.74},{"w":8625,"f":1.02},{"w":8631,"f":0.87},{"w":8640,"f":0.47},{"w":8648,"f":0.89},{"w":8656,"f":1.02},{"w":8661,"f":0.97},{"w":8666,"f":0.85},{"w":8677,"f":0.59},{"w":8682,"f":0.52},
{"w":8690,"f":0.43},{"w":8697,"f":0.40},{"w":8703,"f":0.42},{"w":8710,"f":0.34},{"w":8723,"f":0.32},{"w":8736,"f":0.35},{"w":8749,"f":0.34},{"w":8755,"f":1.5},{"w":8759,"f":1.04},{"w":8763,"f":1.5},{"w":8768,"f":0.53},{"w":8774,"f":1.5},{"w":8780,"f":0.35},{"w":8787,"f":0.77},{"w":8793,"f":0.34},{"w":8804,"f":0.42},{"w":8811,"f":0.33},{"w":8821,"f":1.5},{"w":8827,"f":0.81},{"w":8832,"f":1.5},{"w":8838,"f":0.36},{"w":8845,"f":0.69},{"w":8852,"f":0.36},{"w":8863,"f":0.94},{"w":8873,"f":0.34},{"w":8883,"f":1.5},{"w":8889,"f":0.39},{"w":8899,"f":1.5},{"w":8905,"f":0.42},{"w":8915,"f":1.5},{"w":8922,"f":0.44},{"w":8931,"f":0.39},{"w":8938,"f":1.05},{"w":8944,"f":0.37},{"w":8952,"f":1.5},{"w":8959,"f":0.39},{"w":8967,"f":0.42},{"w":8974,"f":0.39},{"w":8984,"f":0.91},{"w":8990,"f":0.39},{"w":8997,"f":1.5},{"w":9003,"f":0.39},{"w":9010,"f":0.37},{"w":9023,"f":0.39},{"w":9034,"f":0.67},{"w":9039,"f":0.39},{"w":9046,"f":0.86},{"w":9052,"f":0.42},{"w":9062,"f":0.37},{"w":9068,"f":0.42},{"w":9075,"f":0.36},{"w":9088,"f":0.56},{"w":9093,"f":0.40},{"w":9098,"f":0.66},{"w":9104,"f":0.37},{"w":9127,"f":0.36},{"w":9140,"f":0.38},{"w":9148,"f":0.53},{"w":9152,"f":0.45},{"w":9156,"f":0.58},{"w":9163,"f":0.39},{"w":9179,"f":0.39},{"w":9192,"f":0.37},{"w":9205,"f":0.39},{"w":9212,"f":0.51},{"w":9216,"f":0.45},{"w":9220,"f":0.55},{"w":9226,"f":0.40},{"w":9245,"f":0.47},{"w":9251,"f":0.40},{"w":9259,"f":0.57},{"w":9267,"f":0.40},{"w":9277,"f":0.40},{"w":9282,"f":0.63},{"w":9290,"f":0.55},{"w":9297,"f":0.45}
],
"zero": [{"w":4750,"f":0},{"w":9300,"f":0}]
},
"encoding": {
  "x": {"field": "w", "type": "quantitative", "scale": {"domain": [4750, 9300], "nice": false, "zero": false},
        "axis": {"values": [5000, 6000, 7000, 8000, 9000], "format": "d", "title": "Wavelength", "titleFontSize": 32, "titleY": 84, "titleBaseline": "alphabetic", "labelFontSize": 27.5, "tickSize": 14, "labelPadding": 14}},
  "y": {"field": "f", "type": "quantitative", "scale": {"domain": [-1.296, 1.167], "nice": false, "zero": false},
        "axis": {"values": [-1, -0.5, 0, 0.5, 1], "format": ".1f", "title": "10⁻¹⁸ erg s⁻¹ cm⁻² Å⁻¹", "titleFontSize": 46, "titleX": -150, "titleY": 346, "titleAngle": 270, "titleBaseline": "alphabetic", "titleAlign": "center", "labelFontSize": 35, "tickSize": 14, "labelPadding": 16}}
},
"layer": [
  {"data": {"name": "flux"}, "mark": {"type": "line", "color": "black", "strokeWidth": 4.5, "strokeJoin": "round", "clip": true}},
  {"data": {"name": "err"}, "mark": {"type": "line", "color": "#008000", "strokeWidth": 1.5, "clip": true}},
  {"data": {"name": "zero"}, "mark": {"type": "line", "color": "#0000ff", "strokeWidth": 5, "clip": true}}
]
}
